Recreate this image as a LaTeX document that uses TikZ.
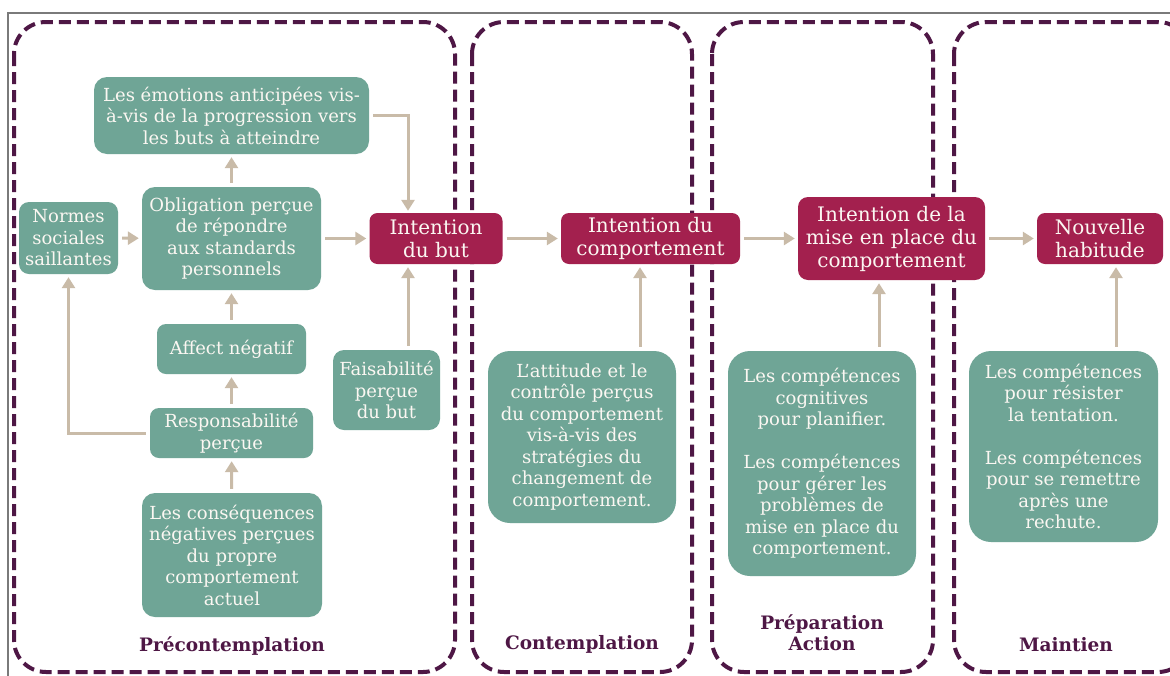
\documentclass[tikz,border=0pt]{standalone}
\usepackage{fontspec}
\setmainfont{DejaVu Serif}
\usetikzlibrary{arrows.meta}
\definecolor{cGreen}{HTML}{6FA596}
\definecolor{cRed}{HTML}{A3204E}
\definecolor{cTan}{HTML}{C9BBA8}
\definecolor{cPurp}{HTML}{4E1745}
\definecolor{cText}{HTML}{FBF7F2}
\definecolor{cFrame}{HTML}{7A7A7A}
\begin{document}
\begin{tikzpicture}[x=1pt,y=-1pt,
  gbox/.style={fill=cGreen, text=cText, rounded corners=13pt, align=center,
    font=\fontsize{18}{21.5}\selectfont, inner sep=1pt},
  rbox/.style={fill=cRed, text=cText, rounded corners=8pt, align=center,
    font=\fontsize{20}{23}\selectfont, inner sep=1pt},
  stagebox/.style={draw=cPurp, line width=4pt, dash pattern=on 12pt off 6pt, rounded corners=32pt},
  stagelabel/.style={text=cPurp, font=\bfseries\fontsize{18.5}{21}\selectfont, align=center},
  arr/.style={draw=cTan, line width=3pt, -{Triangle[length=11pt,width=13pt]}, shorten >=3pt, shorten <=4pt}
]
\useasboundingbox (0,0) rectangle (1170,675);
\clip (0,0) rectangle (1170,675);
\fill[white] (0,0) rectangle (1170,675);
% frame
\draw[cFrame, line width=1.2pt] (8,676) -- (8,13) -- (1172,13);
% stage boxes
\draw[stagebox] (14,22) rectangle (455,672);
\draw[stagebox] (472,22) rectangle (692,672);
\draw[stagebox] (712,22) rectangle (933,672);
\draw[stagebox] (954,22) rectangle (1190,672);
% stage labels
\node[stagelabel] (l1) at (232,646) {Précontemplation};
\node[stagelabel] (l2) at (582,644) {Contemplation};
\node[stagelabel] (l3) at (822,633) {Préparation\\Action};
\node[stagelabel] (l4) at (1066,645) {Maintien};
% green nodes
\node[gbox, minimum width=275pt, minimum height=77pt] (emo) at (231.5,115.5)
  {Les émotions anticipées vis-\\à-vis de la progression vers\\les buts à atteindre};
\node[gbox, minimum width=179pt, minimum height=103pt] (obl) at (231.5,238.5)
  {Obligation perçue\\de répondre\\aux standards\\personnels};
\node[gbox, minimum width=99pt, minimum height=72pt, rounded corners=10pt] (norm) at (68.5,238)
  {Normes\\sociales\\saillantes};
\node[gbox, minimum width=149pt, minimum height=50pt, rounded corners=9pt] (aff) at (231.5,349)
  {Affect négatif};
\node[gbox, minimum width=163pt, minimum height=50pt, rounded corners=9pt] (resp) at (231.5,433)
  {Responsabilité\\perçue};
\node[gbox, minimum width=180pt, minimum height=124pt] (cons) at (232,555)
  {Les conséquences\\négatives perçues\\du propre\\comportement\\actuel};
\node[gbox, minimum width=107pt, minimum height=80pt, rounded corners=11pt] (fais) at (386.5,390)
  {Faisabilité\\perçue\\du but};
\node[gbox, minimum width=188pt, minimum height=172pt, rounded corners=22pt] (att) at (582,437)
  {L'attitude et le\\contrôle perçus\\du comportement\\vis-à-vis des\\stratégies du\\changement de\\comportement.};
\node[gbox, minimum width=188pt, minimum height=225pt, rounded corners=22pt] (prep) at (822,463.5)
  {Les compétences\\cognitives\\pour planifier.\\[21.5pt]Les compétences\\pour gérer les\\problèmes de\\mise en place du\\comportement.};
\node[gbox, minimum width=189pt, minimum height=191pt, rounded corners=22pt] (mnt) at (1063.5,446.5)
  {Les compétences\\pour résister\\la tentation.\\[21.5pt]Les compétences\\pour se remettre\\après une\\rechute.};
% red nodes
\node[rbox, minimum width=133pt, minimum height=51pt] (ib) at (436,238.5)
  {Intention\\du but};
\node[rbox, minimum width=179pt, minimum height=51pt] (ic) at (650.5,238.5)
  {Intention du\\comportement};
\node[rbox, minimum width=187pt, minimum height=83pt, rounded corners=10pt] (im) at (891.5,238.5)
  {Intention de la\\mise en place du\\comportement};
\node[rbox, minimum width=126pt, minimum height=51pt] (nh) at (1100,238.5)
  {Nouvelle\\habitude};
% helper coordinates
\coordinate (v) at (408,0);
\coordinate (va) at (640,0);
\coordinate (vp) at (879,0);
\coordinate (vm) at (1116,0);
% arrows
\draw[arr, shorten >=2pt] (emo.east) -| (v |- ib.north);
\draw[arr] (norm) -- (obl);
\draw[arr] (obl) -- (ib);
\draw[arr] (obl) -- (emo);
\draw[arr] (aff) -- (obl);
\draw[arr] (resp) -- (aff);
\draw[arr] (cons) -- (resp);
\draw[arr] (resp.west) -| (norm.south);
\draw[arr] (v |- fais.north) -- (v |- ib.south);
\draw[arr] (ib) -- (ic);
\draw[arr] (ic) -- (im);
\draw[arr] (im) -- (nh);
\draw[arr] (va |- att.north) -- (va |- ic.south);
\draw[arr] (vp |- prep.north) -- (vp |- im.south);
\draw[arr] (vm |- mnt.north) -- (vm |- nh.south);
\end{tikzpicture}
\end{document}
